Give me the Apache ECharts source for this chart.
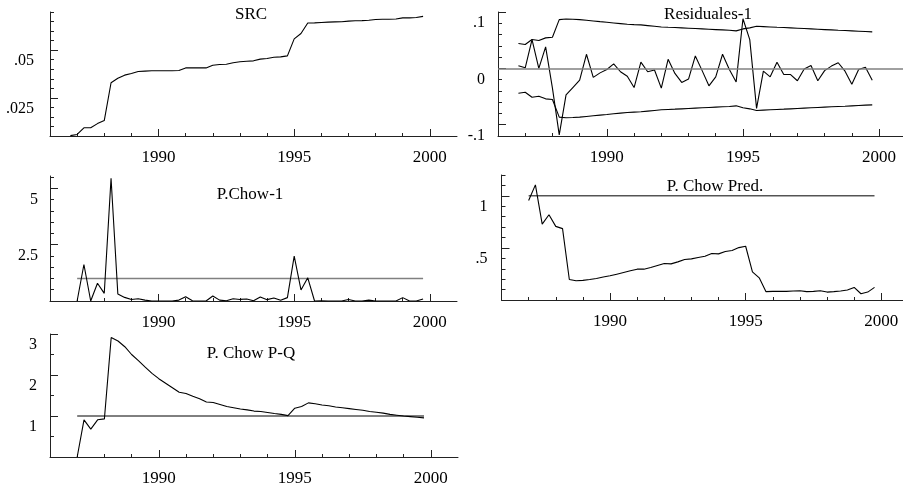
<!DOCTYPE html>
<html>
<head>
<meta charset="utf-8">
<script src="https://cdn.jsdelivr.net/npm/echarts@6/dist/echarts.min.js"></script>
<style>
html, body { margin: 0; padding: 0; background: #fff; }
#main { width: 903px; height: 491px; }
</style>
</head>
<body>
<div id="main"></div>
<script>
// trimestres 1986Q4 .. 1999Q4 (año decimal)
var trimestres = [];
for (var i = 0; i < 53; i++) trimestres.push(1986.75 + i * 0.25);

var titulos = ["SRC", "Residuales-1", "P.Chow-1", "P. Chow Pred.", "P. Chow P-Q"];

// desde 1986Q4
var src = [0.0052, 0.0058, 0.0093, 0.0093, 0.0115, 0.0131, 0.0329, 0.0353, 0.0369, 0.0378,
    0.0388, 0.039, 0.0392, 0.0392, 0.0392, 0.0392, 0.0393, 0.0407, 0.0407, 0.0407,
    0.0407, 0.0421, 0.0425, 0.0426, 0.0434, 0.0439, 0.0442, 0.0444, 0.0453, 0.0456,
    0.0463, 0.0465, 0.047, 0.0559, 0.0587, 0.0642, 0.0643, 0.0645, 0.0647, 0.0648,
    0.0649, 0.0652, 0.0654, 0.0655, 0.0657, 0.0661, 0.0662, 0.0662, 0.0663, 0.0669,
    0.0669, 0.0671, 0.0677];
var residuos = [0.0047, 0.001, 0.051, 0.0, 0.038, -0.035, -0.118, -0.047, -0.034, -0.021,
    0.025, -0.016, -0.008, -0.002, 0.008, -0.006, -0.014, -0.034, 0.011, -0.006,
    -0.003, -0.035, 0.016, -0.009, -0.025, -0.019, 0.022, -0.004, -0.031, -0.015,
    0.025, -0.002, -0.024, 0.088, 0.051, -0.071, -0.005, -0.015, 0.011, -0.011,
    -0.011, -0.022, -0.001, 0.005, -0.022, -0.004, 0.004, 0.01, -0.005, -0.028,
    -0.002, 0.002, -0.021];
// +/- 2 errores estandar
var banda = [0.0441, 0.0424, 0.0512, 0.0494, 0.0541, 0.0553, 0.0865, 0.0876, 0.0871, 0.0865,
    0.0853, 0.0841, 0.0829, 0.0818, 0.0806, 0.0794, 0.0782, 0.0776, 0.0771, 0.0759,
    0.0747, 0.0735, 0.0729, 0.0724, 0.0718, 0.0712, 0.0706, 0.07, 0.0694, 0.0688,
    0.0682, 0.0676, 0.0665, 0.07, 0.0718, 0.0747, 0.0741, 0.0735, 0.0729, 0.0724,
    0.0718, 0.0712, 0.0706, 0.07, 0.0694, 0.0688, 0.0682, 0.0676, 0.0671, 0.0665,
    0.0659, 0.0653, 0.0647];

// desde 1987Q1
var chow1 = [0, 1.62, 0, 0.79, 0.34, 5.45, 0.31, 0.16, 0.07, 0.1,
    0.04, 0, 0, 0, 0, 0.04, 0.19, 0.01, 0, 0,
    0.22, 0.04, 0.01, 0.1, 0.07, 0.09, 0.01, 0.18, 0.06, 0.13,
    0.03, 0.15, 1.99, 0.49, 1.03, 0, 0.01, 0, 0, 0,
    0.07, 0, 0, 0.04, 0, 0, 0, 0, 0.15, 0,
    0, 0.09];
var chowPred = [0.955, 1.105, 0.729, 0.818, 0.707, 0.685, 0.197, 0.185, 0.188, 0.197,
    0.207, 0.22, 0.232, 0.248, 0.264, 0.28, 0.296, 0.296, 0.312, 0.331,
    0.35, 0.347, 0.366, 0.389, 0.395, 0.408, 0.42, 0.446, 0.443, 0.465,
    0.475, 0.503, 0.516, 0.27, 0.213, 0.08, 0.083, 0.083, 0.083, 0.086,
    0.089, 0.08, 0.083, 0.089, 0.076, 0.08, 0.086, 0.096, 0.121, 0.06,
    0.076, 0.121];
var chowPQ = [0, 0.907, 0.68, 0.907, 0.93, 2.915, 2.83, 2.69, 2.5, 2.35,
    2.19, 2.04, 1.91, 1.8, 1.69, 1.58, 1.55, 1.48, 1.42, 1.34,
    1.33, 1.28, 1.23, 1.2, 1.17, 1.15, 1.12, 1.11, 1.085, 1.06,
    1.04, 1.01, 1.19, 1.23, 1.32, 1.3, 1.27, 1.25, 1.22, 1.2,
    1.18, 1.16, 1.14, 1.11, 1.09, 1.07, 1.04, 1.02, 1.0, 0.985,
    0.97, 0.955];
var valorCritico = 1;

// marcas de los ejes
var anosMenores = [1987, 1988, 1989, 1991, 1992, 1993, 1994, 1996, 1997, 1998, 1999];
var anosMayores = [1990, 1995, 2000];
var ejesY = [
    { min: 0.005, max: 0.07, menores: [0.01, 0.015, 0.02, 0.03, 0.035, 0.04, 0.045, 0.055, 0.06, 0.065, 0.07], mayores: [0.025, 0.05] },
    { min: -0.12, max: 0.1, menores: [-0.08, -0.06, -0.04, -0.02, 0.02, 0.04, 0.06, 0.08], mayores: [-0.1, 0, 0.1] },
    { min: 0, max: 5.55, menores: [0.5, 1, 1.5, 2, 3, 3.5, 4, 4.5, 5.5], mayores: [2.5, 5] },
    { min: 0, max: 1.2, menores: [0.1, 0.2, 0.3, 0.4, 0.6, 0.7, 0.8, 0.9, 1.1, 1.2], mayores: [0.5, 1] },
    { min: 0, max: 3, menores: [0.5, 1.5, 2.5], mayores: [1, 2, 3] }
];

// layout de los paneles
var paneles = [
    { left: 50, top: 12, width: 407, height: 124, xmax: 2001, margen: 16, tx: 251, ty: 15 },
    { left: 498, top: 12, width: 405, height: 124, xmax: 2000.88, margen: 13, tx: 708, ty: 15 },
    { left: 50, top: 176, width: 407, height: 125, xmax: 2001, margen: 12, tx: 250, ty: 195 },
    { left: 501.5, top: 175, width: 401.5, height: 125, xmax: 2000.8, margen: 14, tx: 715, ty: 187 },
    { left: 50, top: 334, width: 408, height: 123, xmax: 2001, margen: 13, tx: 251, ty: 354 }
];

var fuente = '"Liberation Serif", "Times New Roman", serif';

function fmtY(v) {
    return String(+(+v).toFixed(4)).replace(/^(-?)0\./, "$1.");
}

function fmtX(v) {
    return String(Math.round(v));
}

var grids = [], xAxes = [], yAxes = [], series = [], graphic = [];

paneles.forEach(function (p, g) {
    grids.push({ left: p.left, top: p.top, width: p.width, height: p.height });
    // eje x: menores y mayores
    xAxes.push({
        type: "value", gridIndex: g, min: 1986, max: p.xmax, position: "bottom",
        axisLine: { onZero: false, lineStyle: { color: "#222", width: 1 } },
        axisTick: { inside: true, length: 3, customValues: anosMenores, lineStyle: { color: "#222" } },
        axisLabel: { show: false }, splitLine: { show: false }
    });
    xAxes.push({
        type: "value", gridIndex: g, min: 1986, max: p.xmax, position: "bottom", offset: 0,
        axisLine: { show: false, onZero: false },
        axisTick: { inside: true, length: 7, customValues: anosMayores, lineStyle: { color: "#222" } },
        axisLabel: { customValues: anosMayores, margin: 13, color: "#000", fontFamily: fuente, fontSize: 17, formatter: fmtX },
        splitLine: { show: false }
    });
    var ey = ejesY[g];
    yAxes.push({
        type: "value", gridIndex: g, min: ey.min, max: ey.max, position: "left",
        axisLine: { show: true, onZero: false, lineStyle: { color: "#222", width: 1 } },
        axisTick: { show: true, inside: true, length: 4, customValues: ey.menores, lineStyle: { color: "#222" } },
        axisLabel: { show: false }, splitLine: { show: false }
    });
    yAxes.push({
        type: "value", gridIndex: g, min: ey.min, max: ey.max, position: "left", offset: 0,
        axisLine: { show: false, onZero: false },
        axisTick: { show: true, inside: true, length: 8, customValues: ey.mayores, lineStyle: { color: "#222" } },
        axisLabel: {
            customValues: ey.mayores, margin: p.margen, color: "#000", fontFamily: fuente, fontSize: 16,
            verticalAlign: "top", padding: [3, 0, 0, 0], formatter: fmtY
        },
        splitLine: { show: false }
    });
    graphic.push({
        type: "text", x: p.tx, y: p.ty,
        style: { text: titulos[g], fill: "#000", font: "17px " + fuente, align: "center", verticalAlign: "middle" }
    });
});

function linea(g, datos, extra) {
    var s = {
        type: "line", xAxisIndex: 2 * g, yAxisIndex: 2 * g, data: datos,
        showSymbol: false, symbol: "none", silent: true, animation: false,
        lineStyle: { color: "#000", width: 1.1 }
    };
    for (var k in extra) s[k] = extra[k];
    return s;
}

function pares(valores, desde) {
    return valores.map(function (v, i) { return [trimestres[i + desde], v]; });
}

function critica(g, color, ancho) {
    var datos = [[trimestres[1], valorCritico], [trimestres[trimestres.length - 1], valorCritico]];
    return linea(g, datos, { lineStyle: { color: color, width: ancho } });
}

series.push(linea(0, pares(src, 0)));

series.push(linea(1, pares(banda, 0)));
series.push(linea(1, pares(banda.map(function (v) { return -v; }), 0)));
series.push(linea(1, pares(residuos, 0), {
    markLine: {
        silent: true, symbol: "none", animation: false, label: { show: false },
        lineStyle: { color: "#808080", width: 1.6, type: "solid" },
        data: [{ yAxis: 0 }]
    }
}));

series.push(critica(2, "#808080", 1.5));
series.push(linea(2, pares(chow1, 1)));

series.push(critica(3, "#000", 1));
series.push(linea(3, pares(chowPred, 1)));

series.push(critica(4, "#000", 1));
series.push(linea(4, pares(chowPQ, 1)));

var mychart = echarts.init(document.getElementById("main"));
mychart.setOption({
    animation: false,
    backgroundColor: "#fff",
    grid: grids,
    xAxis: xAxes,
    yAxis: yAxes,
    series: series,
    graphic: graphic
});
</script>
</body>
</html>
